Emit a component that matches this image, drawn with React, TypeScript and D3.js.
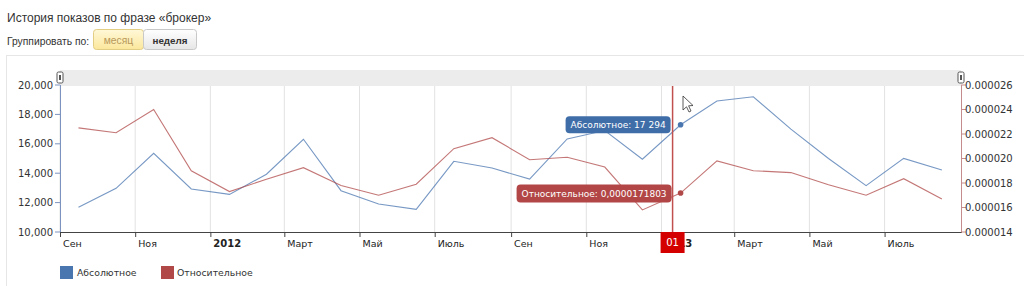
import React from "react";
import * as d3 from "d3";

const months = [
  "2011-09", "2011-10", "2011-11", "2011-12", "2012-01", "2012-02", "2012-03", "2012-04",
  "2012-05", "2012-06", "2012-07", "2012-08", "2012-09", "2012-10", "2012-11", "2012-12",
  "2013-01", "2013-02", "2013-03", "2013-04", "2013-05", "2013-06", "2013-07", "2013-08",
];
const absoluteValues = [
  11680, 12970, 15350, 12930, 12560, 13930, 16310, 12810,
  11900, 11540, 14810, 14350, 13600, 16330, 16900, 14950,
  17294, 18910, 19200, 17000, 15000, 13150, 15010, 14220,
];
const relativeValues = [
  0.0000225, 0.0000221, 0.000024, 0.000019, 0.0000173, 0.0000183, 0.00001925, 0.0000178,
  0.000017, 0.0000179, 0.0000208, 0.0000217, 0.0000199, 0.0000201, 0.0000193, 0.0000158,
  0.0000171803, 0.0000198, 0.000019, 0.00001885, 0.00001785, 0.000017, 0.00001835, 0.0000167,
];
const monthLabels = ["", "", "Март", "", "Май", "", "Июль", "", "Сен", "", "Ноя", ""];
const leftTicks = [10000, 12000, 14000, 16000, 18000, 20000];
const rightTicks = [0.000014, 0.000016, 0.000018, 0.00002, 0.000022, 0.000024, 0.000026];
const seriesNames = ["Абсолютное", "Относительное"];
const cursorDate = "2013-01-10";
const cursorIndex = 16;
const cursorLabel = "01";
const absTooltip = "Абсолютное: 17 294";
const relTooltip = "Относительное: 0,0000171803";

const BLUE = "#4a76b0";
const RED = "#b04848";
const AX = "DejaVu Sans, Verdana, sans-serif";
const AR = "Liberation Sans, Arial, sans-serif";

function parseMonth(s: string) {
  const [y, m] = s.split("-").map(Number);
  return new Date(y, m - 1, 1);
}

export default function App() {
  const L = 60, R = 961, T = 85, B = 232;
  const x = d3.scaleTime().domain([new Date(2011, 8, 1), new Date(2013, 8, 1)]).range([L, R]);
  const yL = d3.scaleLinear().domain([10000, 20000]).range([B, T]);
  const yR = d3.scaleLinear().domain([0.000014, 0.000026]).range([B, T]);
  const mid = (s: string) => {
    const d = parseMonth(s);
    return (x(d) + x(d3.timeMonth.offset(d, 1))) / 2;
  };
  const absLine = d3.line<number>().x((_, i) => mid(months[i])).y((v) => yL(v));
  const relLine = d3.line<number>().x((_, i) => mid(months[i])).y((v) => yR(v));
  const xTicks = x.ticks(d3.timeMonth.every(2)!).filter((d) => +d < +x.domain()[1]);
  const fmtL = d3.format(",");
  const fmtR = d3.format(".6f");
  const [cy, cm, cd] = cursorDate.split("-").map(Number);
  const cx = x(new Date(cy, cm - 1, cd));
  const px = mid(months[cursorIndex]);
  const pyA = yL(absoluteValues[cursorIndex]);
  const pyR = yR(relativeValues[cursorIndex]);

  return (
    <svg width={1024} height={286} style={{ position: "absolute", left: 0, top: 0, background: "#fff" }}>
      <defs>
        <linearGradient id="gSel" x1="0" y1="0" x2="0" y2="1">
          <stop offset="0" stopColor="#fff8d8" />
          <stop offset="1" stopColor="#fbe79c" />
        </linearGradient>
        <linearGradient id="gBtn" x1="0" y1="0" x2="0" y2="1">
          <stop offset="0" stopColor="#ffffff" />
          <stop offset="1" stopColor="#e6e6e6" />
        </linearGradient>
      </defs>
      <text x={7} y={22} fontFamily={AR} fontSize={12} fill="#333">История показов по фразе «брокер»</text>
      <text x={7} y={45} fontFamily={AR} fontSize={10.3} fill="#333">Группировать по:</text>
      <rect x={93.5} y={29.5} width={50} height={20} rx={3} fill="url(#gSel)" stroke="#e2cd85" />
      <rect x={143.5} y={29.5} width={53} height={20} rx={3} fill="url(#gBtn)" stroke="#c8c8c8" />
      <text x={118.5} y={44} textAnchor="middle" fontFamily={AR} fontSize={10.3} fill="#b8985a">месяц</text>
      <text x={170} y={44} textAnchor="middle" fontFamily={AR} fontSize={9.8} fontWeight="bold" fill="#333">неделя</text>

      <line x1={6} x2={1024} y1={55.5} y2={55.5} stroke="#e6e6e6" />
      <line x1={6.5} x2={6.5} y1={55} y2={286} stroke="#e6e6e6" />

      <rect x={L} y={70} width={R - L} height={16} fill="#ececec" />

      {xTicks.map((d, i) => (
        <line key={"g" + i} x1={x(d)} x2={x(d)} y1={86} y2={B} stroke="#e2e2e2" />
      ))}

      <path d={absLine(absoluteValues) || ""} fill="none" stroke={BLUE} strokeOpacity={0.75} strokeWidth={1.1} />
      <path d={relLine(relativeValues) || ""} fill="none" stroke={RED} strokeOpacity={0.75} strokeWidth={1.1} />

      <line x1={L + 0.5} x2={L + 0.5} y1={T} y2={B} stroke="#7d93bf" />
      <line x1={R + 0.5} x2={R + 0.5} y1={T} y2={B} stroke="#c48c8c" />
      <line x1={L} x2={R + 1} y1={B + 0.5} y2={B + 0.5} stroke="#444" />

      {leftTicks.map((v) => (
        <g key={"l" + v}>
          <line x1={L - 5} x2={L} y1={yL(v)} y2={yL(v)} stroke="#7d93bf" />
          <text x={L - 7} y={yL(v)} dy="0.35em" textAnchor="end" fontFamily={AX} fontSize={10} fill="#333">{fmtL(v)}</text>
        </g>
      ))}
      {rightTicks.map((v) => (
        <g key={"r" + v}>
          <line x1={R} x2={R + 5} y1={yR(v)} y2={yR(v)} stroke="#c48c8c" />
          <text x={R + 4} y={yR(v)} dy="0.35em" fontFamily={AX} fontSize={10} fill="#333">{fmtR(v)}</text>
        </g>
      ))}
      {xTicks.map((d, i) => {
        const m = d.getMonth();
        const isYear = m === 0;
        const label = isYear ? String(d.getFullYear()) : monthLabels[m];
        return (
          <g key={"x" + i}>
            <line x1={x(d) + 0.5} x2={x(d) + 0.5} y1={B} y2={B + 5} stroke="#444" />
            <text x={x(d) + 3} y={247} fontFamily={AX} fontSize={isYear ? 10 : 9.5} fontWeight={isYear ? "bold" : "normal"} fill="#222">{label}</text>
          </g>
        );
      })}

      {/* scroll handles */}
      {[L, R].map((hx, i) => (
        <g key={"h" + i}>
          <rect x={hx - 3} y={72} width={6} height={11} rx={1.5} fill="#fff" stroke="#555" />
          <line x1={hx} x2={hx} y1={75} y2={80} stroke="#555" strokeWidth={2} />
        </g>
      ))}

      {/* cursor */}
      <line x1={cx} x2={cx} y1={86} y2={B} stroke="#c0504d" strokeWidth={1.5} />
      <rect x={cx - 12} y={B} width={24} height={21} fill="#d40000" />
      <text x={cx} y={B + 14} textAnchor="middle" fontFamily={AX} fontSize={10} fill="#fff">{cursorLabel}</text>

      <circle cx={px} cy={pyA} r={2.8} fill={BLUE} />
      <circle cx={px} cy={pyR} r={2.8} fill={RED} />

      <rect x={px - 115} y={pyA - 8.5} width={105} height={17} rx={4} fill="#3f6da8" />
      <text x={px - 62.5} y={pyA} dy="0.35em" textAnchor="middle" fontFamily={AX} fontSize={9} fill="#fff">{absTooltip}</text>
      <rect x={px - 164} y={pyR - 8.5} width={155} height={18} rx={4} fill="#b24646" />
      <text x={px - 86.5} y={pyR + 0.5} dy="0.35em" textAnchor="middle" fontFamily={AX} fontSize={9} fill="#fff">{relTooltip}</text>

      {/* mouse pointer */}
      <path d="M683,96 L683,110 L686.5,106.8 L689,112 L691,111 L688.6,105.8 L693,105.5 Z" fill="#fff" stroke="#333" strokeWidth={0.8} />

      {/* legend */}
      <rect x={60} y={266} width={13} height={13} fill={BLUE} />
      <text x={77} y={276} fontFamily={AX} fontSize={9.3} fill="#333">{seriesNames[0]}</text>
      <rect x={161} y={266} width={13} height={13} fill={RED} />
      <text x={177} y={276} fontFamily={AX} fontSize={9.3} fill="#333">{seriesNames[1]}</text>
    </svg>
  );
}
